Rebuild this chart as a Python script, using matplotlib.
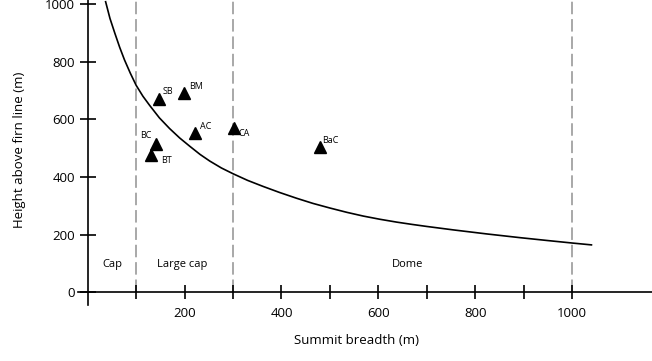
import matplotlib.pyplot as plt

plt.rcParams['font.family'] = ['Open Sans', 'DejaVu Sans']
plt.rcParams['lines.scale_dashes'] = False

# curve
curva_x = [37, 46, 56, 66, 76, 88, 100, 114, 128, 148, 169, 190, 211, 232, 252, 276, 300,
           330, 362, 396, 431, 465, 500, 535, 569, 603, 638, 670, 700, 755, 824, 893, 950, 1003, 1040]
curva_y = [1008, 950, 899, 850, 806, 760, 718, 680, 648, 605, 568, 535, 506, 478, 455, 431, 411,
           388, 367, 346, 326, 308, 292, 277, 264, 253, 243, 235, 228, 216, 202, 189, 179, 170, 164]

# glaciers
nomes = ['SB', 'BM', 'AC', 'CA', 'BC', 'BT', 'BaC']
larg = [147, 199, 222, 302, 140, 131, 479]
altura = [672, 690, 553, 568, 514, 476, 505]
rot_x = [165, 224, 244, 324, 121, 163, 500]
rot_y = [697, 715, 576, 549, 545, 456, 528]

limites = [100, 300, 1000]
zonas = ['Cap', 'Large cap', 'Dome']
zonas_x = [50, 196, 660]

fig = plt.figure(figsize=(6.52, 3.61), dpi=100)
ax = fig.add_axes([78 / 652, 1 - 310 / 361, 1 - 78 / 652, 310 / 361])
ax.set_xlim(-20, 1165)
ax.set_ylim(-62, 1014)

for x in limites:
    ax.plot([x, x], [0, 1100], color='#999999', lw=1.2, dashes=(9, 3.5), zorder=1)

ax.plot(curva_x, curva_y, color='black', lw=1.2, zorder=2)
ax.plot(larg, altura, linestyle='none', marker='^', color='black', markersize=8.5, zorder=3)

for n, x, y in zip(nomes, rot_x, rot_y):
    ax.text(x, y, n, fontsize=6.5, ha='center', va='center')

for z, x in zip(zonas, zonas_x):
    ax.text(x, 95, z, fontsize=8, ha='center', va='center')

for s in ['top', 'right']:
    ax.spines[s].set_visible(False)
ax.spines['left'].set_position(('data', 0))
ax.spines['bottom'].set_position(('data', 0))
ax.spines['left'].set_bounds(-45, 1014)
ax.spines['bottom'].set_bounds(-20, 1165)
ax.spines['left'].set_linewidth(1.2)
ax.spines['bottom'].set_linewidth(1.2)

ax.set_xticks([200, 400, 600, 800, 1000])
ax.set_xticks([100, 300, 500, 700, 900], minor=True)
ax.set_yticks([0, 200, 400, 600, 800, 1000])
ax.tick_params(axis='x', which='both', direction='inout', length=10, width=1.2, pad=6, labelsize=9.5)
ax.tick_params(axis='y', direction='inout', length=12, width=1.2, pad=3, labelsize=9.5)

fig.text(356 / 652, 1 - 341 / 361, 'Summit breadth (m)', fontsize=9.5, ha='center', va='center')
fig.text(20 / 652, 1 - 150 / 361, 'Height above firn line (m)', fontsize=9.5, ha='center', va='center', rotation=90)

fig.savefig('out.png', dpi=100)
